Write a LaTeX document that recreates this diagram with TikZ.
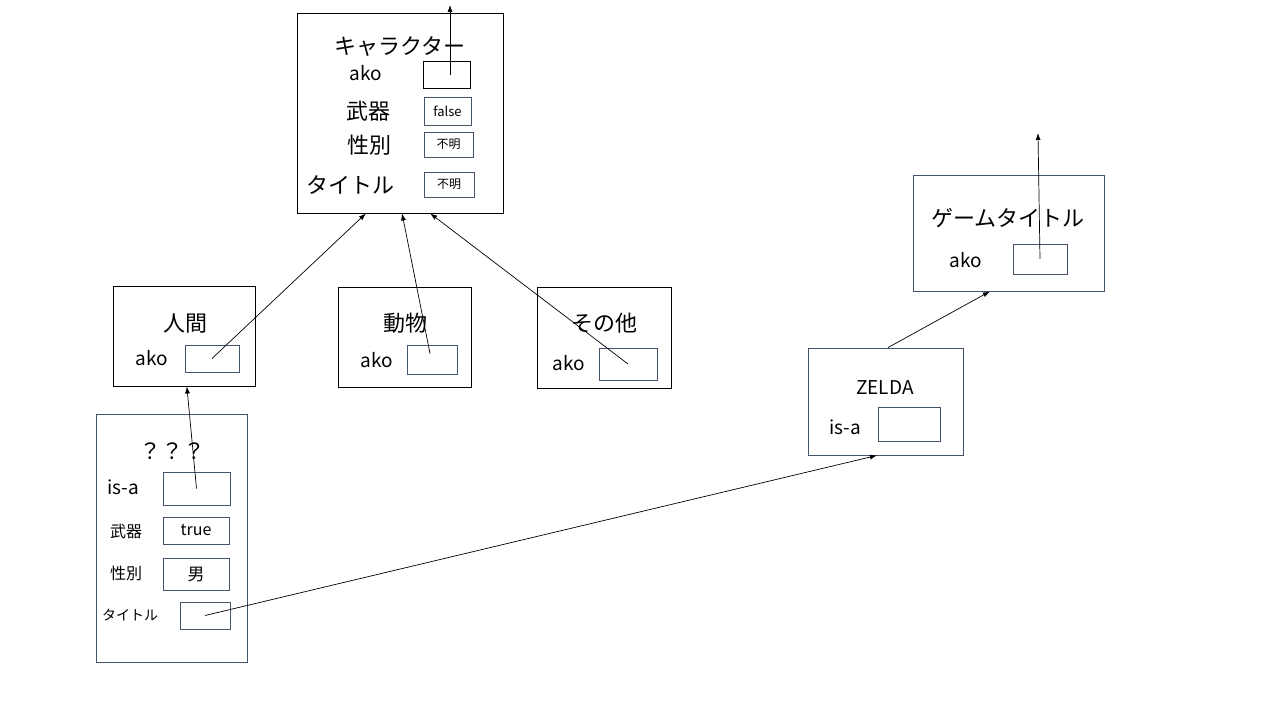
\documentclass[tikz,border=0pt]{standalone}
\usepackage{fontspec}
\setmainfont{Noto Sans CJK JP}
\usetikzlibrary{calc,arrows.meta}
\definecolor{slate}{HTML}{44546A}

\begin{document}
\begin{tikzpicture}[x=1pt,y=-1pt,
    frame/.style={draw,line width=0.9pt,inner sep=0pt},
    slot/.style={draw=slate,line width=0.9pt,inner sep=0pt},
    link/.style={-{Latex[length=7pt,width=5pt]},line width=0.7pt},
    ttl/.style={font=\fontsize{22}{26}\selectfont},
    lbl/.style={font=\fontsize{19}{23}\selectfont},
    sml/.style={font=\fontsize{16}{19}\selectfont}]
  \useasboundingbox[fill=white] (0,0) rectangle (1280,720);

  % frames
  \node[frame,minimum width=206pt,minimum height=200pt] (chara) at (400,113) {};
  \node[frame,minimum width=142pt,minimum height=100pt] (ningen) at (184,336) {};
  \node[frame,minimum width=133pt,minimum height=100pt] (doubutsu) at (404.5,337) {};
  \node[frame,minimum width=134pt,minimum height=101pt] (sonota) at (604,337.5) {};
  \node[frame,draw=slate,minimum width=151pt,minimum height=248pt] (nazo) at (171.5,538) {};
  \node[frame,draw=slate,minimum width=155pt,minimum height=107pt] (zelda) at (885.5,401.5) {};
  \node[frame,draw=slate,minimum width=191pt,minimum height=116pt] (game) at (1008.5,233) {};

  % character
  \node[ttl] (chara-t) at (400,47) {キャラクター};
  \node[lbl] (chara-l1) at (366,73) {ako};
  \node[ttl] (chara-l2) at (368,111) {武器};
  \node[ttl] (chara-l3) at (369,145) {性別};
  \node[ttl] (chara-l4) at (350,185) {タイトル};
  \node[slot,draw=black,minimum width=47pt,minimum height=27pt] (chara-ako) at (446.5,74.5) {};
  \node[slot,minimum width=47pt,minimum height=28pt,font=\fontsize{13}{15}\selectfont] (chara-buki) at (447.5,111) {false};
  \node[slot,minimum width=49pt,minimum height=25pt,font=\fontsize{12}{14}\selectfont] (chara-sei) at (448.5,144.5) {不明};
  \node[slot,minimum width=50pt,minimum height=25pt,font=\fontsize{12}{14}\selectfont] (chara-title) at (449,184.5) {不明};
  \coordinate (chara-up) at (450,5);

  % ningen / doubutsu / sonota
  \node[ttl] (ningen-t) at (185,323) {人間};
  \node[lbl] (ningen-l) at (152,358) {ako};
  \node[slot,minimum width=54pt,minimum height=27pt] (ningen-ako) at (212,358.5) {};
  \node[ttl] (doubutsu-t) at (405,323) {動物};
  \node[lbl] (doubutsu-l) at (377,360) {ako};
  \node[slot,minimum width=50pt,minimum height=29pt] (doubutsu-ako) at (432,359.5) {};
  \node[ttl] (sonota-t) at (604,323) {その他};
  \node[lbl] (sonota-l) at (569,363) {ako};
  \node[slot,minimum width=58pt,minimum height=32pt] (sonota-ako) at (628,364) {};

  % ???
  \node[ttl] (nazo-t) at (172,451) {？？？};
  \node[lbl] (nazo-l1) at (123,487) {is-a};
  \node[sml] (nazo-l2) at (126,531) {武器};
  \node[sml] (nazo-l3) at (126,573) {性別};
  \node[font=\fontsize{14}{16}\selectfont] (nazo-l4) at (130,615) {タイトル};
  \node[slot,minimum width=67pt,minimum height=33pt] (nazo-isa) at (196.5,488.5) {};
  \node[slot,minimum width=66pt,minimum height=27pt,sml] (nazo-buki) at (196,530.5) {true};
  \node[slot,minimum width=66pt,minimum height=32pt,font=\fontsize{17}{20}\selectfont] (nazo-sei) at (196,574) {男};
  \node[slot,minimum width=50pt,minimum height=27pt] (nazo-title) at (205,615.5) {};

  % zelda / game title
  \node[lbl] (zelda-t) at (885,388) {ZELDA};
  \node[lbl] (zelda-l) at (845,427) {is-a};
  \node[slot,minimum width=62pt,minimum height=34pt] (zelda-isa) at (909,424) {};
  \node[ttl] (game-t) at (1008,218) {ゲームタイトル};
  \node[lbl] (game-l) at (966,260) {ako};
  \node[slot,minimum width=54pt,minimum height=30pt] (game-ako) at (1040,259) {};
  \coordinate (game-up) at (1038,133);

  % links
  \draw[link] (chara-ako.center -| chara-up) -- (chara-up);
  \draw[link] (ningen-ako.center) -- ($(chara.south west)!0.335!(chara.south east)$);
  \draw[link] ($(doubutsu-ako.center)+(-2,-6)$) -- ($(chara.south west)!0.51!(chara.south east)$);
  \draw[link] (sonota-ako.center) -- ($(chara.south west)!0.646!(chara.south east)$);
  \draw[link] (nazo-isa.center) -- ($(ningen.south west)!0.52!(ningen.south east)$);
  \draw[link] (nazo-title.center) -- ($(zelda.south west)!0.445!(zelda.south east)$);
  \draw[link] ($(zelda.north west)!0.516!(zelda.north east)$) -- ($(game.south west)!0.403!(game.south east)$);
  \draw[link] (game-ako.center) -- (game-up);
\end{tikzpicture}
\end{document}
